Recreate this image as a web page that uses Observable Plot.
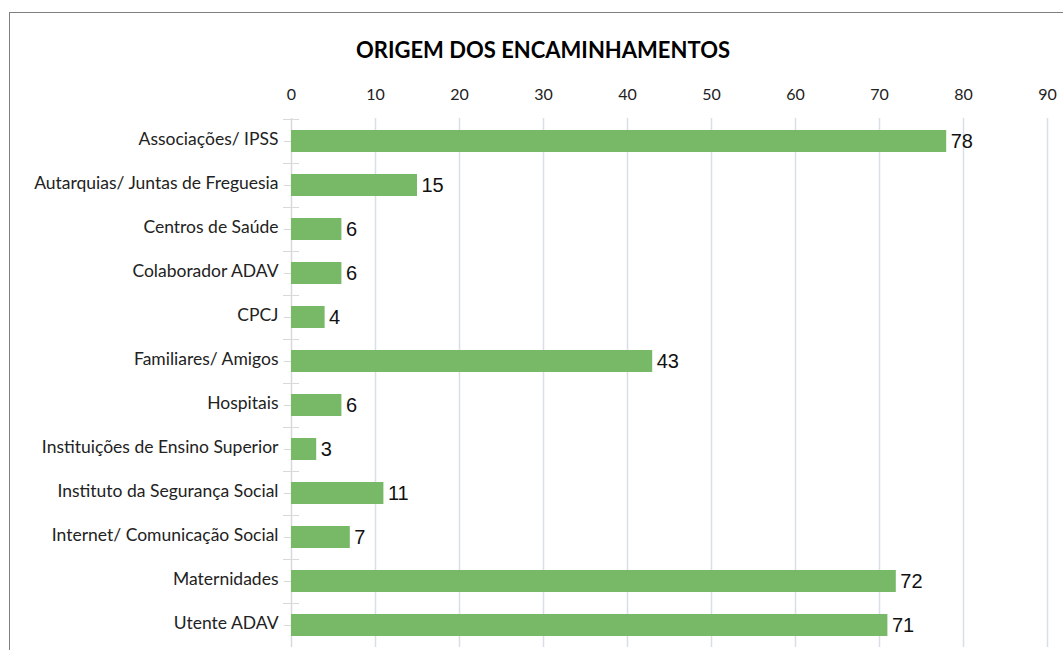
<!DOCTYPE html>
<html>
<head>
<meta charset="utf-8">
<script src="https://cdn.jsdelivr.net/npm/d3@7"></script>
<script src="https://cdn.jsdelivr.net/npm/@observablehq/plot@0.6"></script>
<style>
  html, body { margin: 0; padding: 0; background: #fff; }
  #wrap { position: relative; width: 1063px; height: 650px; overflow: hidden; }
  #frame { position: absolute; left: 9px; top: 12px; width: 1100px; height: 700px; border: 1px solid #7f7f7f; box-sizing: border-box; }
  #title { position: absolute; left: 243px; width: 600px; top: 36px; text-align: center;
    font-family: Lato, "Open Sans", sans-serif; font-weight: bold; font-size: 22px; line-height: 28px; color: #000; }
  #chart { position: absolute; left: 0; top: 0; }
</style>
</head>
<body>
<div id="wrap">
  <div id="frame"></div>
  <div id="title">ORIGEM DOS ENCAMINHAMENTOS</div>
  <div id="chart"></div>
</div>
<script>
const titleText = "ORIGEM DOS ENCAMINHAMENTOS";
const categories = [
  "Associações/ IPSS",
  "Autarquias/ Juntas de Freguesia",
  "Centros de Saúde",
  "Colaborador ADAV",
  "CPCJ",
  "Familiares/ Amigos",
  "Hospitais",
  "Instituições de Ensino Superior",
  "Instituto da Segurança Social",
  "Internet/ Comunicação Social",
  "Maternidades",
  "Utente ADAV"
];
const values = [78, 15, 6, 6, 4, 43, 6, 3, 11, 7, 72, 71];
const xTicks = [0, 10, 20, 30, 40, 50, 60, 70, 80, 90];

const data = categories.map((c, i) => ({name: c, value: values[i]}));
const labelFont = "Lato, 'Open Sans', sans-serif";
const step = (647 - 118) / categories.length;

const plot = Plot.plot({
  width: 1063,
  height: 650,
  marginLeft: 291,
  marginRight: 16,
  marginTop: 118,
  marginBottom: 3,
  style: {background: "transparent", fontFamily: labelFont, overflow: "visible"},
  x: {domain: [0, 90], range: [291, 1047]},
  y: {domain: categories, paddingInner: 0.5, paddingOuter: 0.25, range: [118, 647]},
  marks: [
    Plot.gridX(xTicks.filter(d => d > 0), {stroke: "#d9dee8", strokeOpacity: 1, strokeWidth: 1.5}),
    Plot.axisX(xTicks, {anchor: "top", tickSize: 0, tickPadding: 19, fontSize: 16, fill: "#222", tickFormat: d => d, label: null, fontFamily: labelFont}),
    Plot.ruleX([0], {stroke: "#d9d9d9", strokeWidth: 1.5}),
    Plot.axisY({anchor: "left", tickSize: 7, text: null, stroke: "#d9d9d9", label: null}),
    Plot.axisY({anchor: "left", tickSize: 0, tickPadding: 13, dy: -2, fontSize: 17.5, fill: "#222", label: null, fontFamily: labelFont}),
    Plot.axisY({anchor: "left", tickSize: 16, text: null, dy: -step / 2, dx: 8, stroke: "#d9d9d9", label: null}),
    Plot.barX(data, {x: "value", y: "name", fill: "#77b966"}),
    Plot.text(data, {x: "value", y: "name", text: d => String(d.value), textAnchor: "start", dx: 4, fontSize: 20, fill: "#111", fontFamily: "'Liberation Sans', Arial, sans-serif"})
  ]
});
document.getElementById("chart").appendChild(plot);
</script>
</body>
</html>
